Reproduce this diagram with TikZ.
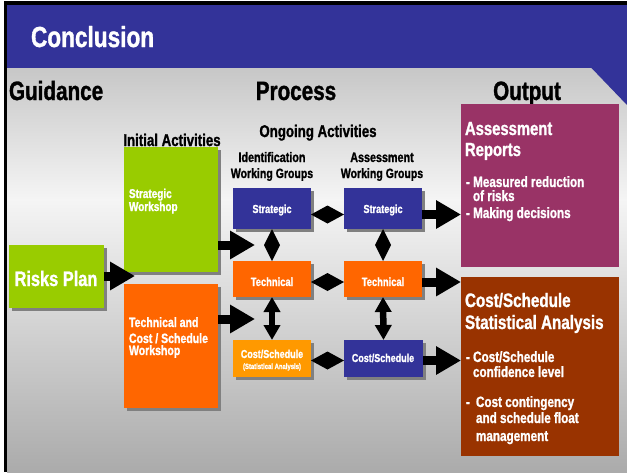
\documentclass[tikz,border=0pt]{standalone}
\usepackage{fontspec}
\setmainfont{Liberation Sans}[FakeStretch=0.78, FakeBold=1.2]
\usetikzlibrary{arrows.meta,shadows,calc}
\definecolor{hblue}{HTML}{333399}
\definecolor{lgreen}{HTML}{99CC00}
\definecolor{orng}{HTML}{FF6600}
\definecolor{lorng}{HTML}{FF9900}
\definecolor{mgnta}{HTML}{993366}
\definecolor{brwn}{HTML}{993300}
\definecolor{gtop}{gray}{0.78}
\definecolor{gmid}{gray}{0.96}
\definecolor{gbot}{gray}{0.67}
\definecolor{shd}{gray}{0.5}
\newcommand\fsz[1]{\fontsize{#1}{#1}\selectfont\bfseries}
\newcommand\hdiamond[2]{\fill (#1) -- ($(#1)!0.5!(#2)+(0,-9)$) -- (#2) -- ($(#1)!0.5!(#2)+(0,9)$) -- cycle;}
\newcommand\vdiamond[2]{\fill (#1) -- ($(#1)!0.5!(#2)+(-8,0)$) -- (#2) -- ($(#1)!0.5!(#2)+(8,0)$) -- cycle;}
\begin{document}
\begin{tikzpicture}[x=1pt,y=-1pt,
  box/.style={anchor=north west, inner sep=0, outer sep=0, draw=none,
    drop shadow={shadow xshift=3pt, shadow yshift=-3pt, fill=shd, opacity=1}},
  obox/.style={anchor=north west, inner sep=0, outer sep=0, draw=none},
  wt/.style={text=white, inner sep=0, outer sep=0},
  bk/.style={text=black, inner sep=0, outer sep=0},
  blk/.style={line width=9pt, -{Triangle[length=25pt,width=27pt]}},
  vdbl/.style={line width=6.5pt, {Triangle[length=15pt,width=16pt]}-{Triangle[length=15pt,width=16pt]}},
]
\useasboundingbox (0,0) rectangle (627,472);
% background
\fill[white] (0,0) rectangle (627,472);
\shade[top color=gtop, bottom color=gmid] (7,68) rectangle (627,200);
\shade[top color=gmid, bottom color=gbot] (7,199.5) rectangle (627,472);
\fill[hblue] (7,5) rectangle (627,68);
\fill[hblue] (591,67.5) -- (627,67.5) -- (627,105) -- cycle;
\fill[black] (4,1) rectangle (627,5);
\fill[black] (4,1) rectangle (7,472);

% titles
\node[wt, anchor=base west, font=\fsz{29}] (title) at (31,47) {Conclusion};
\node[bk, anchor=base west, font=\fsz{26.5}] (guid) at (9,100) {Guidance};
\node[bk, anchor=base, font=\fsz{26.5}] (proc) at (296,100) {Process};
\node[bk, anchor=base, font=\fsz{26.5}] (outp) at (527,100) {Output};
\node[bk, anchor=base, font=\fsz{17}] (init) at (172,146) {Initial Activities};
\node[bk, anchor=base, font=\fsz{17}] (ongo) at (318,137) {Ongoing Activities};
\node[bk, anchor=base, font=\fsz{13.8}] (idg1) at (272,162) {Identification};
\node[bk, anchor=base, font=\fsz{13.5}] (idg2) at (272,178) {Working Groups};
\node[bk, anchor=base, font=\fsz{13.8}] (asg1) at (382,162) {Assessment};
\node[bk, anchor=base, font=\fsz{13.5}] (asg2) at (382,178) {Working Groups};

% boxes
\node[box, fill=lgreen, minimum width=95pt, minimum height=63pt] (rp) at (9,245) {};
\node[box, fill=lgreen, minimum width=94pt, minimum height=125pt] (sw) at (124,147) {};
\node[box, fill=orng, minimum width=94pt, minimum height=124pt] (tw) at (124,284) {};
\node[box, fill=hblue, minimum width=78pt, minimum height=41pt] (s1) at (233,188) {};
\node[box, fill=hblue, minimum width=78pt, minimum height=41pt] (s2) at (344,188) {};
\node[box, fill=orng, minimum width=78pt, minimum height=36pt] (t1) at (233,261) {};
\node[box, fill=orng, minimum width=78pt, minimum height=36pt] (t2) at (344,261) {};
\node[box, fill=lorng, minimum width=78pt, minimum height=37pt] (c1) at (233,340) {};
\node[box, fill=hblue, minimum width=79pt, minimum height=37pt] (c2) at (344,340) {};
\node[obox, fill=mgnta, minimum width=158pt, minimum height=163pt] (ar) at (461,104) {};
\node[obox, fill=brwn, minimum width=158pt, minimum height=179pt] (cs) at (461,277) {};

% connectors
\coordinate (rpt) at (135,276);
\draw[blk] (rp.east |- rpt) -- (rpt);
\coordinate (swt) at (255,245);
\draw[blk] (sw.east |- swt) -- (swt);
\coordinate (twt) at (255,319);
\draw[blk] (tw.east |- twt) -- (twt);

\coordinate (s2e) at ($(s2.east)+(0,6)$);
\draw[blk] (s2e) -- (s2e -| ar.west);
\coordinate (t2e) at ($(t2.east)+(0,3)$);
\draw[blk] (t2e) -- (t2e -| cs.west);
\coordinate (c2e) at ($(c2.east)+(0,2)$);
\draw[blk] (c2e) -- (c2e -| cs.west);

\coordinate (s1r) at ($(s1.east)+(0,6)$);
\coordinate (s2l) at ($(s2.west)+(0,6)$);
\coordinate (t1r) at ($(t1.east)+(0,3)$);
\coordinate (t2l) at ($(t2.west)+(0,3)$);
\coordinate (c1r) at ($(c1.east)+(0,2)$);
\coordinate (c2l) at ($(c2.west)+(0,2)$);
\hdiamond{s1r}{s2l}
\hdiamond{t1r}{t2l}
\hdiamond{c1r}{c2l}
\vdiamond{s1.south}{t1.north}
\vdiamond{s2.south}{t2.north}
\draw[vdbl] (t1.south) -- (c1.north);
\draw[vdbl] (t2.south) -- (c2.north);

% box texts
\node[wt, anchor=base, font=\fsz{21}] (rpx) at (56,286) {Risks Plan};
\node[wt, anchor=base west, font=\fsz{12.8}] (sw1) at (129,198) {Strategic};
\node[wt, anchor=base west, font=\fsz{12.8}] (sw2) at (129,211) {Workshop};
\node[wt, anchor=base west, font=\fsz{13.5}] (tw1) at (129,327) {Technical and};
\node[wt, anchor=base west, font=\fsz{13.5}] (tw2) at (129,343) {Cost / Schedule};
\node[wt, anchor=base west, font=\fsz{13.5}] (tw3) at (129,355) {Workshop};
\node[wt, anchor=base, font=\fsz{11.7}] (s1x) at (272,213) {Strategic};
\node[wt, anchor=base, font=\fsz{11.7}] (s2x) at (383,213) {Strategic};
\node[wt, anchor=base, font=\fsz{12}] (t1x) at (272,286) {Technical};
\node[wt, anchor=base, font=\fsz{12}] (t2x) at (383,286) {Technical};
\node[wt, anchor=base, font=\fsz{11.5}] (c1x) at (272,358) {Cost/Schedule};
\node[wt, anchor=base, font=\fsz{7.6}] (c1y) at (272,369) {(Statistical Analysis)};
\node[wt, anchor=base, font=\fsz{11.5}] (c2x) at (383,362) {Cost/Schedule};

% output texts
\node[wt, anchor=base west, font=\fsz{19}] (ar1) at (465,135) {Assessment};
\node[wt, anchor=base west, font=\fsz{19}] (ar2) at (465,156) {Reports};
\node[wt, anchor=base west, font=\fsz{15}] (ar3) at (466,187) {- Measured reduction};
\node[wt, anchor=base west, font=\fsz{15}] (ar4) at (473,201) {of risks};
\node[wt, anchor=base west, font=\fsz{15}] (ar5) at (466,218) {- Making decisions};
\node[wt, anchor=base west, font=\fsz{19.5}] (cs1) at (465,307) {Cost/Schedule};
\node[wt, anchor=base west, font=\fsz{19.5}] (cs2) at (465,329) {Statistical Analysis};
\node[wt, anchor=base west, font=\fsz{15}] (cs3) at (466,362) {- Cost/Schedule};
\node[wt, anchor=base west, font=\fsz{15}] (cs4) at (473,377) {confidence level};
\node[wt, anchor=base west, font=\fsz{15}] (cs5a) at (466,407) {-};
\node[wt, anchor=base west, font=\fsz{15}] (cs5) at (476,407) {Cost contingency};
\node[wt, anchor=base west, font=\fsz{15}] (cs6) at (476,423) {and schedule float};
\node[wt, anchor=base west, font=\fsz{15}] (cs7) at (476,441) {management};
\end{tikzpicture}
\end{document}
